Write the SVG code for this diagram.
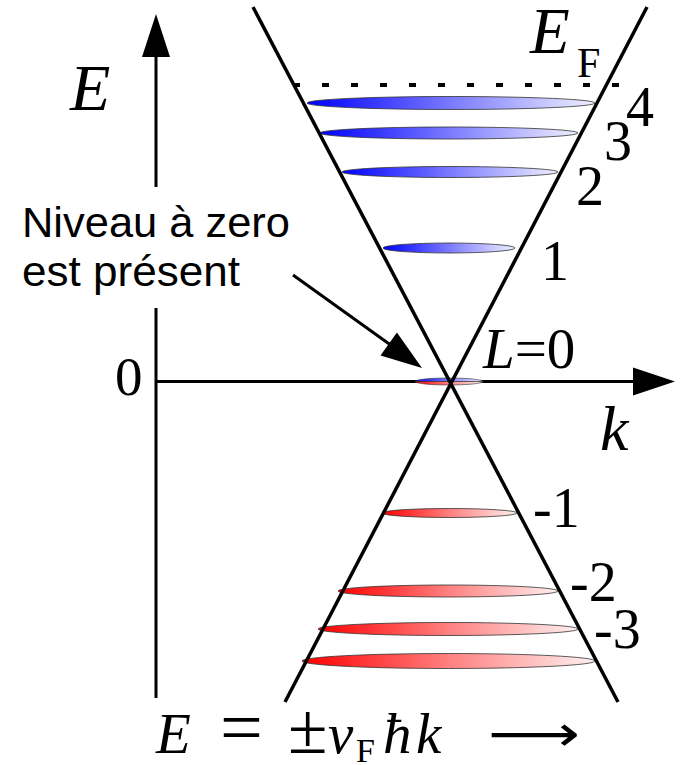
<svg xmlns="http://www.w3.org/2000/svg" width="680" height="765" viewBox="0 0 680 765">
<style>
.ax{stroke:#000;stroke-width:3;fill:none}
.cone{stroke:#000;stroke-width:3.5;fill:none}
.lvb{fill:url(#gb);stroke:#333;stroke-width:0.8}
.lvr{fill:url(#gr);stroke:#333;stroke-width:0.8}
.m{font-family:"Liberation Serif","Times New Roman",serif;fill:#000}
.i{font-style:italic}
.num{font-family:"Liberation Serif","Times New Roman",serif;font-size:56px;fill:#000}
.sans{font-family:"Liberation Sans",Arial,sans-serif;font-size:42px;fill:#000}
</style>
<defs>
<linearGradient id="gb" x1="0" y1="0" x2="1" y2="0">
<stop offset="0" stop-color="#0000ff"/>
<stop offset="0.5" stop-color="#7a7aff"/>
<stop offset="1" stop-color="#f0f0ff"/>
</linearGradient>
<linearGradient id="gr" x1="0" y1="0" x2="1" y2="0">
<stop offset="0" stop-color="#ff0000"/>
<stop offset="0.5" stop-color="#ff8080"/>
<stop offset="1" stop-color="#fff0f0"/>
</linearGradient>
</defs>
<rect width="680" height="765" fill="#fff"/>

<g id="fermi-line">
<line x1="293" y1="85" x2="622" y2="85" stroke="#000" stroke-width="4" stroke-dasharray="7 22"/>
</g>

<g id="levels-positive">
<ellipse class="lvb" cx="451" cy="103" rx="144" ry="6.5"/>
<ellipse class="lvb" cx="449" cy="133" rx="129" ry="6"/>
<ellipse class="lvb" cx="450" cy="172" rx="108" ry="5.5"/>
<ellipse class="lvb" cx="449" cy="248" rx="66" ry="5"/>
</g>
<g id="levels-negative">
<ellipse class="lvr" cx="449.5" cy="513" rx="67.5" ry="4.5"/>
<ellipse class="lvr" cx="448" cy="591" rx="110" ry="6"/>
<ellipse class="lvr" cx="448" cy="629" rx="130" ry="6.5"/>
<ellipse class="lvr" cx="448.5" cy="661" rx="146.5" ry="7.5"/>
</g>

<g id="connectors">
<path class="ax" d="M156 55 V187 M156 308 V698"/>
<polygon points="156,14 142,57 170,57" fill="#000"/>
<path class="ax" d="M155 381.5 H636"/>
<polygon points="675,381.5 633,367.5 633,395.5" fill="#000"/>
<line x1="293" y1="275" x2="392" y2="346" stroke="#000" stroke-width="3"/>
<polygon points="422,368 380.5,355.4 396.9,332.6" fill="#000"/>
</g>

<g id="level-zero">
<path d="M415 381.5 A34 3.5 0 0 1 483 381.5 Z" fill="url(#gb)" stroke="#333" stroke-width="0.6"/>
<path d="M415 381.5 A34 3.5 0 0 0 483 381.5 Z" fill="url(#gr)" stroke="#333" stroke-width="0.6"/>
</g>

<g id="dispersion-cone">
<line class="cone" x1="253" y1="7" x2="618" y2="702"/>
<line class="cone" x1="647" y1="7" x2="285" y2="702"/>
</g>

<g id="axis-labels">
<text class="m i" x="70" y="110" font-size="66">E</text>
<text class="m" x="115" y="395" font-size="55">0</text>
<text class="m i" x="600" y="450" font-size="64">k</text>
</g>

<g id="fermi-label">
<text class="m i" x="530" y="53" font-size="65">E</text>
<text class="m" x="577" y="77" font-size="42">F</text>
</g>

<g id="level-labels">
<text class="num" x="626" y="126">4</text>
<text class="num" x="604" y="160">3</text>
<text class="num" x="576" y="205">2</text>
<text class="num" x="541" y="280">1</text>
<text class="m" x="483" y="368" font-size="57"><tspan font-style="italic">L</tspan>=0</text>
<text class="num" x="533" y="527">-1</text>
<text class="num" x="570" y="601">-2</text>
<text class="num" x="594" y="648">-3</text>
</g>

<g id="annotation">
<text class="sans" x="22" y="237" textLength="268" lengthAdjust="spacingAndGlyphs">Niveau à zero</text>
<text class="sans" x="22" y="286" textLength="218" lengthAdjust="spacingAndGlyphs">est présent</text>
</g>

<g id="formula">
<text class="m" y="753" font-size="57"><tspan x="156" font-style="italic">E</tspan><tspan x="220" font-size="76">=</tspan><tspan x="288" font-size="72">±</tspan><tspan x="328" font-style="italic">v</tspan><tspan x="356" y="762" font-size="34">F</tspan><tspan x="383" y="753" font-style="italic">ħ</tspan><tspan x="416" font-style="italic">k</tspan></text>
<text x="488" y="751" font-family="'DejaVu Sans',sans-serif" font-size="50" textLength="92" lengthAdjust="spacingAndGlyphs">⟶</text>
</g>
</svg>
